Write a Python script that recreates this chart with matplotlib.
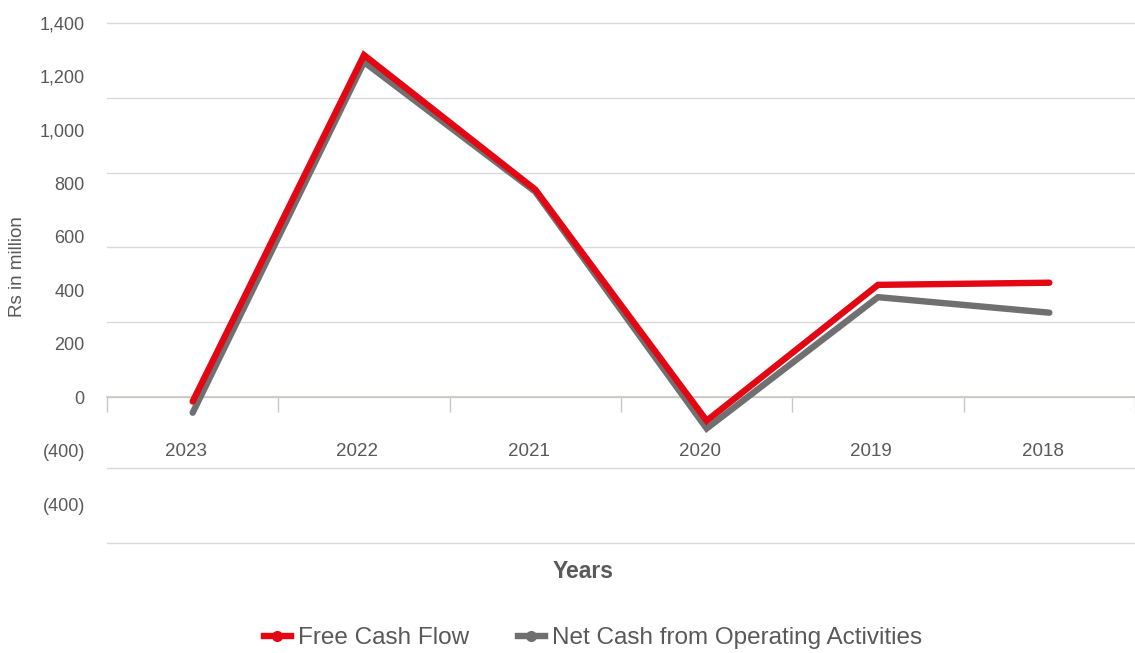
import numpy as np
import matplotlib.pyplot as plt

plt.rcParams['font.family'] = ['Liberation Sans', 'DejaVu Sans']

years = ["2023", "2022", "2021", "2020", "2019", "2018"]
free_cash_flow = [-16, 1279, 776, -88, 420, 428]
net_cash_operating = [-58, 1253, 768, -117, 374, 316]

ytick_values = [1400, 1200, 1000, 800, 600, 400, 200, 0, -200, -400]
ytick_labels = ["1,400", "1,200", "1,000", "800", "600", "400", "200", "0", "(400)", "(400)"]
grid_values = [1400, 1120, 840, 560, 280, 0, -265, -545]

text_color = "#595959"

fig = plt.figure(figsize=(11.35, 6.53), dpi=100)
ax = fig.add_axes([107 / 1135, 1 - 543 / 653, 1 - 107 / 1135, (543 - 22.7) / 653])
ax.xaxis.remove_overlapping_locs = False
ax.yaxis.remove_overlapping_locs = False

x = np.arange(len(years))
ax.plot(x, net_cash_operating, color="#707070", lw=4.6, solid_capstyle="round",
        solid_joinstyle="miter", zorder=3, label="Net Cash from Operating Activities")
ax.plot(x, free_cash_flow, color="#E30613", lw=4.6, solid_capstyle="round",
        solid_joinstyle="miter", zorder=4, label="Free Cash Flow")

ax.set_xlim(-0.5, len(years) - 0.5)
ax.set_ylim(-545, 1400)

# gridlines (major, unlabeled) and y labels (minor)
ax.set_yticks(grid_values)
ax.set_yticklabels([])
ax.set_yticks(ytick_values, minor=True)
ax.set_yticklabels(ytick_labels, minor=True)
ax.tick_params(axis="y", which="both", length=0)
ax.tick_params(axis="y", which="minor", pad=16, labelsize=13, labelcolor=text_color)
ax.grid(axis="y", which="major", color="#d9d9d9", lw=1, clip_on=False)

# category axis crossing at zero
for s in ["top", "right", "left"]:
    ax.spines[s].set_visible(False)
ax.spines["bottom"].set_position(("data", 0))
ax.spines["bottom"].set_color("#c8c8c0")
ax.spines["bottom"].set_linewidth(1.2)
ax.set_xticks(np.arange(len(years) + 1) - 0.5)
ax.set_xticklabels([])
ax.tick_params(axis="x", which="major", direction="out", length=11, color="#c8c8c8", width=1)
ax.set_xticks(x - 0.04, minor=True)
ax.set_xticklabels(years, minor=True)
ax.tick_params(axis="x", which="minor", length=0, pad=33, labelsize=13.5, labelcolor=text_color)

fig.text(18 / 1135, 1 - 267 / 653, "Rs in million", rotation=90, ha="center", va="center",
         fontsize=13.5, color=text_color)
fig.text(583 / 1135, 1 - 572 / 653, "Years", ha="center", va="center",
         fontsize=16.5, fontweight="bold", color=text_color)

handles, labels = ax.get_legend_handles_labels()
leg_handles = []
for h in handles[::-1]:
    leg_handles.append(plt.Line2D([], [], color=h.get_color(), lw=4.6, marker="o", markersize=7))
leg = fig.legend(leg_handles, labels[::-1], loc="center", bbox_to_anchor=(0.5225, 1 - 638 / 653),
                 ncol=2, frameon=False, fontsize=17.5, handlelength=1.1, handletextpad=0.3,
                 columnspacing=2.0, labelcolor=text_color)

fig.savefig("out.png", dpi=100)
